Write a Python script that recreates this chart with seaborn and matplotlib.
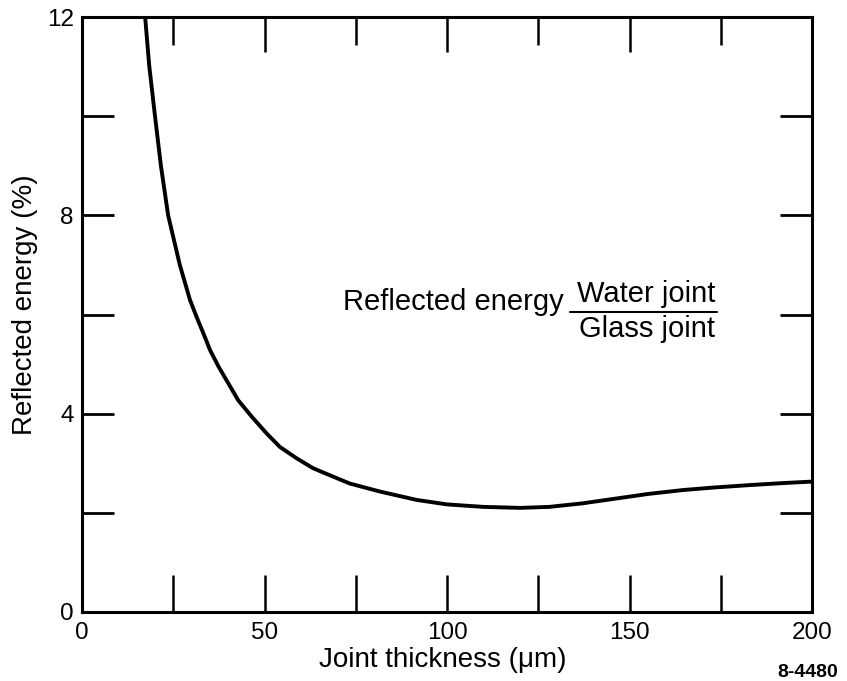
import matplotlib
matplotlib.use("Agg")
import matplotlib.pyplot as plt
import seaborn as sns
import pandas as pd
from matplotlib.ticker import MultipleLocator, FixedLocator

# Data
thickness = [17.3, 18.4, 20.0, 21.6, 23.6, 26.8, 29.6, 31.4, 33.2, 35.1, 37.4,
             40.1, 42.8, 46.5, 50.6, 54.2, 58.8, 63.3, 68.8, 73.4, 81.6, 91.7,
             100.0, 110.0, 120.0, 128.0, 137.0, 146.5, 155.0, 164.7, 173.0,
             183.0, 192.0, 200.0]
reflected = [12.0, 11.03, 10.0, 9.01, 8.0, 7.0, 6.29, 5.95, 5.63, 5.28, 4.95,
             4.61, 4.27, 3.94, 3.60, 3.33, 3.10, 2.90, 2.73, 2.59, 2.43, 2.26,
             2.17, 2.12, 2.10, 2.12, 2.19, 2.29, 2.38, 2.46, 2.51,
             2.56, 2.60, 2.63]
x_ticks = [0, 50, 100, 150, 200]
y_label_ticks = [0, 4, 8, 12]
y_minor_ticks = [2, 6, 10]

sns.set_theme(style="white")
plt.rcParams['font.family'] = ['Liberation Sans', 'DejaVu Sans']
plt.rcParams['text.color'] = 'black'
plt.rcParams['axes.labelcolor'] = 'black'
plt.rcParams['xtick.color'] = 'black'
plt.rcParams['ytick.color'] = 'black'

df = pd.DataFrame({"x": thickness, "y": reflected})

fig = plt.figure(figsize=(8.47, 6.81), dpi=100)
ax = fig.add_axes([82/847, 1-612/681, 730/847, 595/681])

sns.lineplot(data=df, x="x", y="y", ax=ax, color="black", linewidth=2.8)
ax.lines[0].set_solid_joinstyle("round")
ax.lines[0].set_solid_capstyle("round")

ax.set_xlim(0, 200)
ax.set_ylim(0, 12)

for s in ax.spines.values():
    s.set_linewidth(2.2)
    s.set_color("black")

ax.set_xticks(x_ticks)
ax.set_xticklabels([str(t) for t in x_ticks])
ax.xaxis.set_minor_locator(MultipleLocator(25))
ax.set_yticks(y_label_ticks)
ax.set_yticklabels([str(t) for t in y_label_ticks])
ax.yaxis.set_minor_locator(FixedLocator(y_minor_ticks))

ax.tick_params(axis="x", which="both", direction="in", top=False, bottom=True,
               length=27, width=1.8, labelsize=17.5, pad=7)
ax.tick_params(axis="y", which="both", direction="in", left=True, right=True,
               length=23, width=2.0, labelsize=17.5, pad=6)

# top ticks (major longer than minor)
top = ax.secondary_xaxis("top")
top.set_xticks(x_ticks)
top.xaxis.set_minor_locator(MultipleLocator(25))
top.tick_params(axis="x", which="major", direction="in", length=25, width=1.8,
                labeltop=False)
top.tick_params(axis="x", which="minor", direction="in", length=20, width=1.8)
top.spines["top"].set_visible(False)

ax.set_xlabel("Joint thickness (μm)", fontsize=20)
ax.set_ylabel("Reflected energy (%)", fontsize=20)
ax.xaxis.set_label_coords(0.494, -0.058)
ax.yaxis.set_label_coords(-0.060, 0.516)

# Annotation with fraction
ax.text(71.5, 6.09, "Reflected energy", fontsize=21, ha="left", va="baseline")
ax.text(154.7, 6.256, "Water joint", fontsize=21, ha="center", va="baseline")
ax.text(154.7, 5.55, "Glass joint", fontsize=21, ha="center", va="baseline")
ax.plot([133.7, 173.9], [6.054, 6.054], color="black", linewidth=1.5)

fig.text(838/847, 1-677/681, "8-4480", fontsize=14, fontweight="bold",
         ha="right", va="baseline",
         family=['Liberation Sans Narrow', 'Liberation Sans', 'DejaVu Sans'])

fig.savefig("out.png", dpi=100)
